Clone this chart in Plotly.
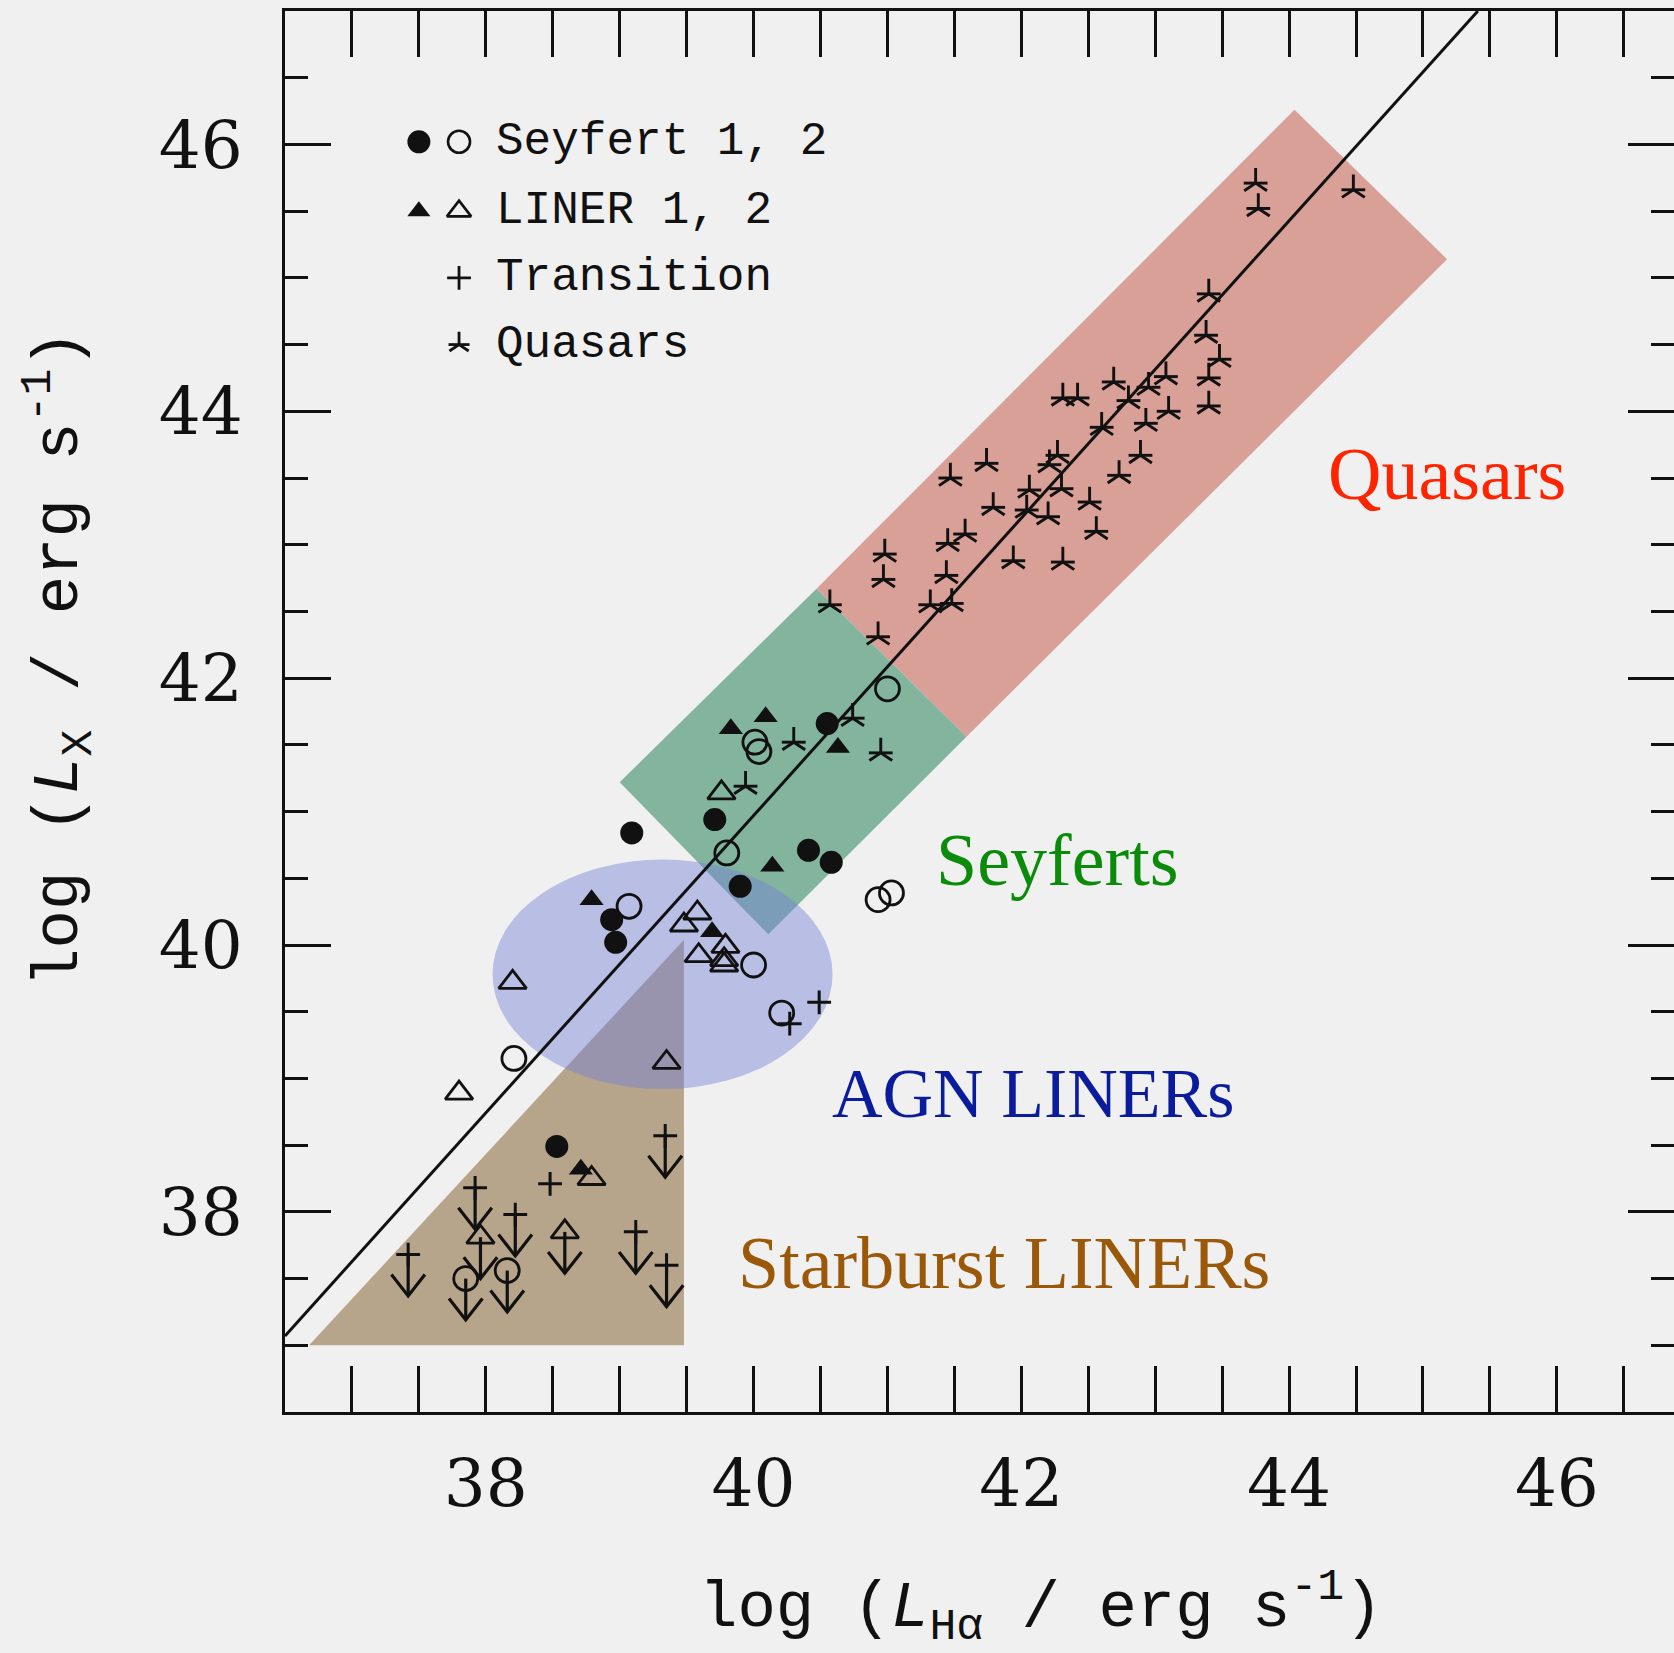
import plotly.graph_objects as go

# ---------------- data ----------------
# Seyfert 1 (filled circles)
sy1_x = [39.09, 39.71, 40.55, 40.41, 40.58, 39.90, 38.94, 38.97, 38.53]
sy1_y = [40.84, 40.94, 41.66, 40.71, 40.62, 40.44, 40.19, 40.02, 38.49]
# Seyfert 2 (open circles)
sy2_x = [41.00, 40.01, 40.04, 39.80, 40.93, 41.03, 39.07, 40.00, 40.21, 38.21]
sy2_y = [41.92, 41.52, 41.45, 40.69, 40.34, 40.39, 40.29, 39.85, 39.49, 39.15]
sy2_lim_x = [37.85, 38.16]
sy2_lim_y = [37.50, 37.56]
# LINER 1 (filled triangles)
l1_x = [39.83, 40.09, 40.63, 40.14, 38.79, 39.69, 38.71]
l1_y = [41.62, 41.71, 41.48, 40.59, 40.34, 40.10, 38.32]
# LINER 2 (open triangles)
l2_x = [39.76, 39.58, 39.48, 39.79, 39.59, 39.78, 39.78, 38.20, 39.35, 37.80, 38.79]
l2_y = [41.14, 40.24, 40.15, 39.99, 39.92, 39.89, 39.85, 39.72, 39.12, 38.89, 38.25]
l2_lim_x = [37.96, 38.59]
l2_lim_y = [37.81, 37.85]
# Transition objects (+)
tr_x = [40.49, 40.27, 38.48]
tr_y = [39.57, 39.41, 38.21]
tr_lim_x = [37.42, 37.92, 38.22, 39.34, 39.12, 39.35]
tr_lim_y = [37.68, 38.18, 37.98, 38.57, 37.85, 37.60]
# Quasars (stars)
qso_x = [43.75, 43.77, 44.48, 43.40, 43.38, 43.48, 43.40, 43.40, 43.08, 42.69,
         42.95, 42.80, 43.10, 42.93, 42.31, 42.42, 42.60, 42.89, 42.27, 42.21,
         41.74, 41.47, 42.30, 42.06, 42.73, 42.51, 41.79, 42.04, 42.20, 42.56,
         41.58, 41.45, 41.94, 42.31, 40.98, 40.97, 41.44, 41.32, 41.48, 40.57,
         40.93, 40.74, 40.30, 40.95, 39.94]
qso_y = [45.71, 45.52, 45.66, 44.88, 44.57, 44.39, 44.25, 44.04, 44.26, 44.22,
         44.18, 44.08, 44.00, 43.91, 44.10, 44.10, 43.88, 43.67, 43.67, 43.60,
         43.61, 43.50, 43.42, 43.41, 43.52, 43.32, 43.28, 43.26, 43.21, 43.10,
         43.08, 43.01, 42.88, 42.87, 42.93, 42.74, 42.77, 42.55, 42.56, 42.55,
         42.31, 41.70, 41.52, 41.44, 41.19]
# correlation line
fit_x = [36.50, 45.41]
fit_y = [37.07, 47.00]
# upper-limit arrow geometry (data units)
limit_len = 0.31
head_half_w = 0.125
head_depth = 0.16

# shaded regions (data coordinates)
quasar_box_x = [44.04, 45.18, 41.59, 40.47]
quasar_box_y = [46.26, 45.14, 41.56, 42.67]
seyfert_box_x = [40.47, 41.59, 40.11, 39.00]
seyfert_box_y = [42.67, 41.56, 40.08, 41.22]
agn_ellipse_x = [38.05, 40.59]
agn_ellipse_y = [38.92, 40.64]
sb_tri_x = [36.68, 39.48, 39.48]
sb_tri_y = [37.00, 37.00, 40.04]

region_labels = ["Quasars", "Seyferts", "AGN LINERs", "Starburst LINERs"]
region_x = [45.18, 42.27, 42.09, 41.87]
region_y = [43.53, 40.64, 38.89, 37.62]
region_sizes = [74, 74, 70, 74]
region_colors = ["#ff2400", "#0a8c0a", "#0a1c9c", "#9a5808"]

legend_labels = ["Seyfert 1, 2", "LINER 1, 2", "Transition", "Quasars"]
legend_y = [46.02, 45.50, 45.00, 44.50]
legend_sym_x = [37.50, 37.80]
legend_text_x = 38.06

x_range = [36.5, 46.875]
y_range = [36.5, 47.0]

BG = "#f0f0f0"
INK = "#111111"

def path(xs, ys):
    p = "M %f,%f " % (xs[0], ys[0])
    for a, b in zip(xs[1:], ys[1:]):
        p += "L %f,%f " % (a, b)
    return p + "Z"

fig = go.Figure()

# shapes
fig.add_shape(type="path", path=path(sb_tri_x, sb_tri_y), xref="x", yref="y",
              fillcolor="#b7a58b", line=dict(width=0), layer="below")
fig.add_shape(type="path", path=path(quasar_box_x, quasar_box_y), xref="x", yref="y",
              fillcolor="#d9a097", line=dict(width=0), layer="below")
fig.add_shape(type="path", path=path(seyfert_box_x, seyfert_box_y), xref="x", yref="y",
              fillcolor="#82b49e", line=dict(width=0), layer="below")
fig.add_shape(type="circle", x0=agn_ellipse_x[0], x1=agn_ellipse_x[1],
              y0=agn_ellipse_y[0], y1=agn_ellipse_y[1], xref="x", yref="y",
              fillcolor="rgba(118,128,215,0.45)", line=dict(width=0), layer="below")

# fit line
fig.add_trace(go.Scatter(x=fit_x, y=fit_y, mode="lines",
                         line=dict(color=INK, width=3), hoverinfo="skip"))

# upper-limit arrows (shaft + open V head) built from the limit points
ax_, ay_ = [], []
for lx, ly in zip(sy2_lim_x + l2_lim_x + tr_lim_x, sy2_lim_y + l2_lim_y + tr_lim_y):
    tip = ly - limit_len
    ax_ += [lx, lx, None, lx - head_half_w, lx, lx + head_half_w, None]
    ay_ += [ly, tip, None, tip + head_depth, tip, tip + head_depth, None]
fig.add_trace(go.Scatter(x=ax_, y=ay_, mode="lines", hoverinfo="skip",
                         line=dict(color=INK, width=3.2)))

def pts(x, y, symbol, size, lw=2.4):
    return go.Scatter(x=x, y=y, mode="markers", hoverinfo="skip",
                      marker=dict(symbol=symbol, size=size, color=INK,
                                  line=dict(color=INK, width=lw)))

fig.add_trace(pts(sy1_x, sy1_y, "circle", 23, lw=0))
fig.add_trace(pts(sy2_x + sy2_lim_x, sy2_y + sy2_lim_y, "circle-open", 24, lw=2.8))
fig.add_trace(pts(l1_x, l1_y, "triangle-up", 21, lw=0))
fig.add_trace(pts(l2_x + l2_lim_x, l2_y + l2_lim_y, "triangle-up-open", 24, lw=2.8))
fig.add_trace(pts(tr_x + tr_lim_x, tr_y + tr_lim_y, "cross-thin-open", 17, lw=3))
fig.add_trace(pts(qso_x, qso_y, "y-up-open", 19, lw=2.9))
fig.add_trace(pts(qso_x, qso_y, "line-ew-open", 17, lw=2.9))

# legend symbols
fig.add_trace(pts([legend_sym_x[0]], [legend_y[0]], "circle", 23, lw=0))
fig.add_trace(pts([legend_sym_x[1]], [legend_y[0]], "circle-open", 22, lw=2.6))
fig.add_trace(pts([legend_sym_x[0]], [legend_y[1]], "triangle-up", 20, lw=0))
fig.add_trace(pts([legend_sym_x[1]], [legend_y[1]], "triangle-up-open", 21, lw=2.6))
fig.add_trace(pts([legend_sym_x[1]], [legend_y[2]], "cross-thin-open", 17, lw=2.8))
fig.add_trace(pts([legend_sym_x[1]], [legend_y[3]], "y-up-open", 16, lw=2.8))
fig.add_trace(pts([legend_sym_x[1]], [legend_y[3]], "line-ew-open", 15, lw=2.8))

# dummy trace for right-hand tick axis
fig.add_trace(go.Scatter(x=[None], y=[None], yaxis="y2", mode="markers",
                         hoverinfo="skip", showlegend=False))

annotations = []
# legend texts
for lab, ly in zip(legend_labels, legend_y):
    annotations.append(dict(x=legend_text_x, y=ly, xref="x", yref="y", text=lab,
                            showarrow=False, xanchor="left", yanchor="middle",
                            font=dict(family="Liberation Mono", size=46, color=INK)))
# region labels
for lab, rx, ry, rs, rc in zip(region_labels, region_x, region_y, region_sizes, region_colors):
    annotations.append(dict(x=rx, y=ry, xref="x", yref="y", text=lab,
                            showarrow=False, xanchor="center", yanchor="middle",
                            font=dict(family="Liberation Serif", size=rs, color=rc)))
# axis titles
annotations.append(dict(x=0.544, y=-0.139, xref="paper", yref="paper",
                        text="log (<i>L</i><sub>Hα</sub> / erg s<sup>-1</sup>)",
                        showarrow=False, xanchor="center", yanchor="middle",
                        font=dict(family="Liberation Mono", size=64, color=INK)))
annotations.append(dict(x=-0.163, y=0.538, xref="paper", yref="paper",
                        text="log (<i>L</i><sub>X</sub> / erg s<sup>-1</sup>)",
                        textangle=-90, showarrow=False, xanchor="center", yanchor="middle",
                        font=dict(family="Liberation Mono", size=64, color=INK)))

tickfont = dict(family="DejaVu Serif", size=66, color=INK)
minor = dict(dtick=0.5, ticklen=23, tickwidth=2.5, tickcolor=INK, ticks="inside", showgrid=False)

fig.update_layout(
    width=1674, height=1653,
    margin=dict(l=285, r=0, t=11, b=241),
    paper_bgcolor=BG, plot_bgcolor=BG,
    showlegend=False,
    annotations=annotations,
    xaxis=dict(range=x_range, showgrid=False, zeroline=False,
               showline=True, linecolor=INK, linewidth=3, mirror="allticks",
               ticks="inside", ticklen=46, tickwidth=2.5, tickcolor=INK,
               tick0=38, dtick=2, tickfont=tickfont, ticklabelstandoff=12,
               minor=minor),
    yaxis=dict(range=y_range, showgrid=False, zeroline=False,
               showline=True, linecolor=INK, linewidth=3, mirror=False,
               ticks="inside", ticklen=46, tickwidth=2.5, tickcolor=INK,
               tick0=38, dtick=2, tickfont=tickfont, ticklabelstandoff=26,
               minor=minor),
    yaxis2=dict(range=y_range, overlaying="y", side="right", showgrid=False,
                zeroline=False, showline=False, showticklabels=False,
                ticks="inside", ticklen=46, tickwidth=2.5, tickcolor=INK,
                tick0=38, dtick=2, minor=minor),
)

fig.write_html("out.html")
